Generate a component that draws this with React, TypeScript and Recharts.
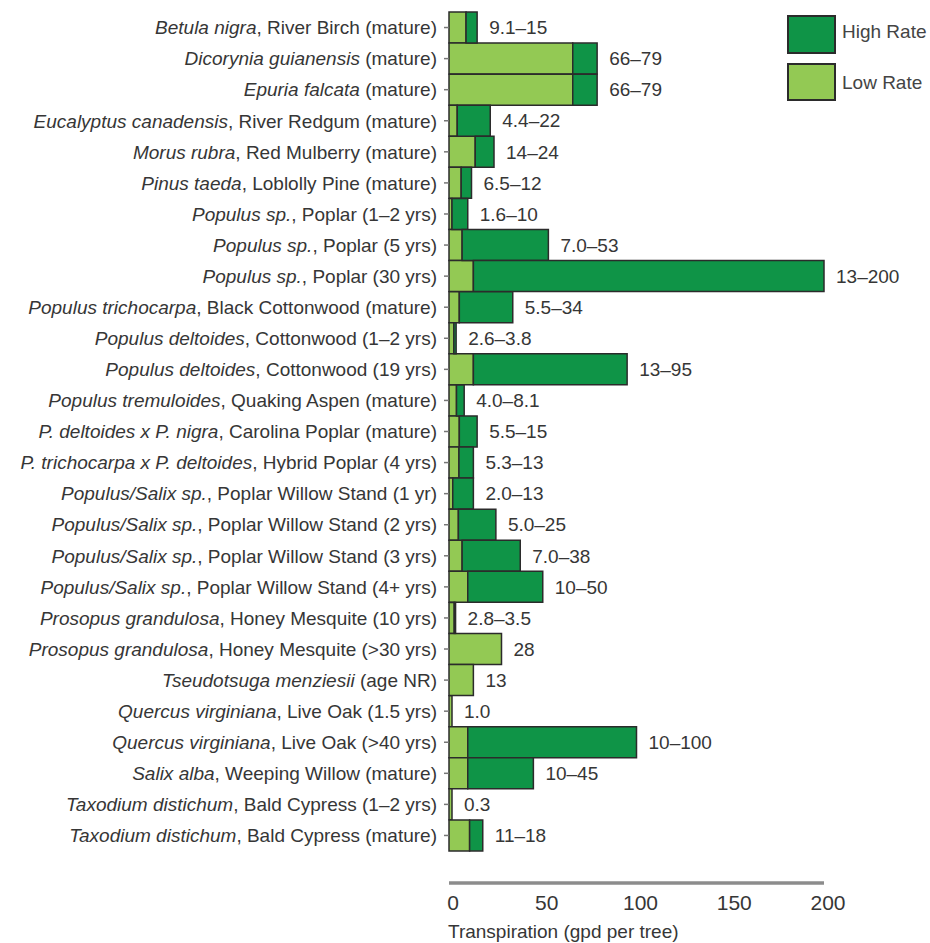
import React from 'react';
import { BarChart, Bar, XAxis, YAxis, LabelList, Legend } from 'recharts';

const speciesNames = [
  'Betula nigra',
  'Dicorynia guianensis',
  'Epuria falcata',
  'Eucalyptus canadensis',
  'Morus rubra',
  'Pinus taeda',
  'Populus sp.',
  'Populus sp.',
  'Populus sp.',
  'Populus trichocarpa',
  'Populus deltoides',
  'Populus deltoides',
  'Populus tremuloides',
  'P. deltoides x P. nigra',
  'P. trichocarpa x P. deltoides',
  'Populus/Salix sp.',
  'Populus/Salix sp.',
  'Populus/Salix sp.',
  'Populus/Salix sp.',
  'Prosopus grandulosa',
  'Prosopus grandulosa',
  'Tseudotsuga menziesii',
  'Quercus virginiana',
  'Quercus virginiana',
  'Salix alba',
  'Taxodium distichum',
  'Taxodium distichum',
];

const commonNames = [
  ', River Birch (mature)',
  ' (mature)',
  ' (mature)',
  ', River Redgum (mature)',
  ', Red Mulberry (mature)',
  ', Loblolly Pine (mature)',
  ', Poplar (1–2 yrs)',
  ', Poplar (5 yrs)',
  ', Poplar (30 yrs)',
  ', Black Cottonwood (mature)',
  ', Cottonwood (1–2 yrs)',
  ', Cottonwood (19 yrs)',
  ', Quaking Aspen (mature)',
  ', Carolina Poplar (mature)',
  ', Hybrid Poplar (4 yrs)',
  ', Poplar Willow Stand (1 yr)',
  ', Poplar Willow Stand (2 yrs)',
  ', Poplar Willow Stand (3 yrs)',
  ', Poplar Willow Stand (4+ yrs)',
  ', Honey Mesquite (10 yrs)',
  ', Honey Mesquite (>30 yrs)',
  ' (age NR)',
  ', Live Oak (1.5 yrs)',
  ', Live Oak (>40 yrs)',
  ', Weeping Willow (mature)',
  ', Bald Cypress (1–2 yrs)',
  ', Bald Cypress (mature)',
];

const lowRates = [9.1, 66, 66, 4.4, 14, 6.5, 1.6, 7.0, 13, 5.5, 2.6, 13, 4.0, 5.5, 5.3, 2.0, 5.0, 7.0, 10, 2.8, 28, 13, 1.0, 10, 10, 0.3, 11];
const highRates: (number | null)[] = [15, 79, 79, 22, 24, 12, 10, 53, 200, 34, 3.8, 95, 8.1, 15, 13, 13, 25, 38, 50, 3.5, null, null, null, 100, 45, null, 18];
const rangeLabels = ['9.1–15', '66–79', '66–79', '4.4–22', '14–24', '6.5–12', '1.6–10', '7.0–53', '13–200', '5.5–34', '2.6–3.8', '13–95', '4.0–8.1', '5.5–15', '5.3–13', '2.0–13', '5.0–25', '7.0–38', '10–50', '2.8–3.5', '28', '13', '1.0', '10–100', '10–45', '0.3', '11–18'];
const xTicks = [0, 50, 100, 150, 200];

const fullNames = speciesNames.map((s, i) => s + commonNames[i]);

const data = speciesNames.map((s, i) => ({
  name: fullNames[i],
  low: lowRates[i],
  diff: highRates[i] == null ? null : (highRates[i] as number) - lowRates[i],
  top: highRates[i] == null ? lowRates[i] : (highRates[i] as number),
  label: rangeLabels[i],
}));

const FONT = '"Liberation Sans", Arial, Helvetica, sans-serif';
const TEXT = '#363636';
const DARK = '#0f9447';
const LIGHT = '#93c954';
const EDGE = '#2b2b2b';
const PX_PER_UNIT = 375 / 200;

const YTick = (props: any) => {
  const { x, y, payload } = props;
  const i = fullNames.indexOf(payload.value);
  return (
    <text x={x} y={y} dy="0.355em" textAnchor="end" fontSize={19} fill={TEXT} fontFamily={FONT}>
      <tspan fontStyle="italic">{speciesNames[i]}</tspan>
      <tspan>{commonNames[i]}</tspan>
    </text>
  );
};

const XTick = (props: any) => {
  const { x, y, payload } = props;
  return (
    <text x={x + 4} y={y + 27} textAnchor="middle" fontSize={21} fill={TEXT} fontFamily={FONT}>
      {payload.value}
    </text>
  );
};

const RangeLabel = (props: any) => {
  const { x, y, height, index } = props;
  const d = data[index];
  if (!d) return null;
  const end = Number(x) + Math.max(d.top * PX_PER_UNIT, 3);
  return (
    <text x={end + 12} y={Number(y) + Number(height) / 2} dy="0.355em" fontSize={19} fill={TEXT} fontFamily={FONT}>
      {d.label}
    </text>
  );
};

const LegendBox = () => (
  <div style={{ position: 'relative', width: 930, height: 0, fontFamily: FONT }}>
    <div style={{ position: 'absolute', left: 787, top: 15, width: 45, height: 35, background: DARK, border: `2px solid ${EDGE}` }} />
    <div style={{ position: 'absolute', left: 842, top: 20, fontSize: 19, color: '#444', lineHeight: '24px', whiteSpace: 'nowrap' }}>High Rate</div>
    <div style={{ position: 'absolute', left: 787, top: 63, width: 45, height: 34, background: LIGHT, border: `2px solid ${EDGE}` }} />
    <div style={{ position: 'absolute', left: 842, top: 71, fontSize: 19, color: '#444', lineHeight: '24px', whiteSpace: 'nowrap' }}>Low Rate</div>
  </div>
);

export default function App() {
  return (
    <div style={{ position: 'absolute', left: 0, top: 0, width: 930, height: 943, background: '#fff' }}>
      <BarChart
        width={930}
        height={943}
        data={data}
        layout="vertical"
        margin={{ top: 12, right: 106, bottom: 0, left: 0 }}
        barCategoryGap={0}
      >
        <XAxis
          type="number"
          domain={[0, 200]}
          ticks={xTicks}
          height={60}
          axisLine={{ stroke: '#8c8c8c', strokeWidth: 3.5 }}
          tickLine={false}
          tickSize={0}
          tickMargin={0}
          tick={<XTick />}
          label={{
            content: (p: any) => (
              <text x={p.viewBox.x - 1} y={p.viewBox.y + 55} fontSize={19} fill={TEXT} fontFamily={FONT}>
                Transpiration (gpd per tree)
              </text>
            ),
          }}
        />
        <YAxis
          type="category"
          dataKey="name"
          width={449}
          interval={0}
          padding={{ top: 0, bottom: 32 }}
          axisLine={false}
          tickLine={{ stroke: '#777', strokeWidth: 1.5 }}
          tickSize={5}
          tickMargin={7}
          tick={<YTick />}
        />
        <Legend
          layout="horizontal"
          verticalAlign="middle"
          align="center"
          wrapperStyle={{ position: 'absolute', left: 0, top: 0, width: 930, height: 0 }}
          content={() => <LegendBox />}
        />
        <Bar dataKey="low" name="Low Rate" stackId="a" fill={LIGHT} stroke={EDGE} strokeWidth={1.5} minPointSize={3} isAnimationActive={false}>
          <LabelList dataKey="label" content={<RangeLabel />} />
        </Bar>
        <Bar dataKey="diff" name="High Rate" stackId="a" fill={DARK} stroke={EDGE} strokeWidth={1.5} isAnimationActive={false} />
      </BarChart>
    </div>
  );
}
